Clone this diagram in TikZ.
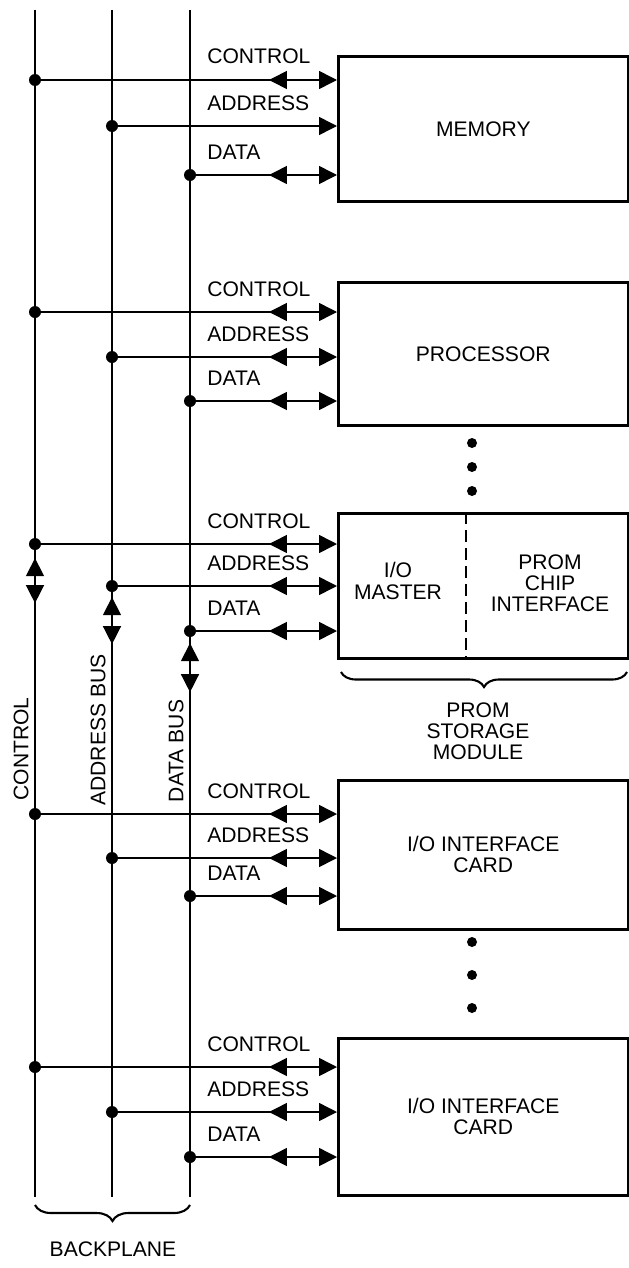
\documentclass[tikz,border=0pt]{standalone}
\usepackage{fontspec}
\setmainfont{Liberation Sans}
\usetikzlibrary{positioning, arrows.meta, calc, decorations.markings, decorations.pathreplacing}

\begin{document}
\begin{tikzpicture}[
    x=0.025cm, y=-0.025cm,      % one unit = one pixel of the sheet, y downwards
    >={Triangle[length=0.45cm, width=0.45cm]},
    font=\fontsize{15}{15}\selectfont,
    box/.style={draw, line width=1.8pt, anchor=north west, inner sep=0pt,
                minimum width=7.25cm, align=center},
    jdot/.style={circle, fill, inner sep=0pt, minimum size=0.3cm},
    vdot/.style={circle, fill, inner sep=0pt, minimum size=0.25cm},
    lbl/.style={anchor=base west, inner sep=0pt},
    wire/.style={line width=1.1pt},
    oneway/.style={wire, ->},
    twoway/.style={wire, ->, postaction={decorate, decoration={markings,
                mark=at position -1.7cm with {\arrowreversed{>}}}}},
    bus/.style 2 args={line width=1pt, postaction={decorate, decoration={markings,
                mark=at position #1 with {\arrowreversed{>}},
                mark=at position #2 with {\arrow{>}}}}},
    brc/.style={line width=1.5pt, decorate, decoration={brace, mirror, amplitude=#1}}
]
    \useasboundingbox (0,0) rectangle (629,1268);

    % --- 1. the modules ---
    \node[box, minimum height=3.625cm] (mem)  at (337,55)   {MEMORY};
    \node[box, minimum height=3.575cm] (proc) at (337,281)  {PROCESSOR};
    \node[box, minimum height=3.625cm] (prom) at (337,512)  {};
    \node[box, minimum height=3.725cm] (io1)  at (337,779)  {I/O INTERFACE\\CARD};
    \node[box, minimum height=3.925cm] (io2)  at (337,1037) {I/O INTERFACE\\CARD};

    % PROM module split in two halves
    \draw[dash pattern=on 0.3cm off 0.15cm, line width=0.8pt] (466,512) -- (466,657);
    \node[align=center] (iom) at (398,581) {I/O\\MASTER};
    \node[align=center] (pci) at (550,583) {PROM\\CHIP\\INTERFACE};
    \draw[brc=0.375cm] (341,672) -- (627,672);
    \node[align=center] (psm) at (478,731) {PROM\\STORAGE\\MODULE};

    % more modules (ellipsis)
    \node[vdot] (e1) at (472,443) {};
    \node[vdot] (e2) at (472,467) {};
    \node[vdot] (e3) at (472,491) {};
    \node[vdot] (e4) at (472,942) {};
    \node[vdot] (e5) at (472,975) {};
    \node[vdot] (e6) at (472,1008) {};

    % --- 2. the backplane ---
    \coordinate (ctop) at (35,10);   \coordinate (cbot) at (35,1197);
    \coordinate (atop) at (112,10);  \coordinate (abot) at (112,1197);
    \coordinate (dtop) at (190,10);  \coordinate (dbot) at (190,1197);
    \draw[bus={13.7cm}{14.825cm}]  (ctop) -- (cbot);
    \draw[bus={14.675cm}{15.85cm}] (atop) -- (abot);
    \draw[bus={15.825cm}{17.05cm}] (dtop) -- (dbot);

    \node[rotate=90] (vctl) at (21,749) {CONTROL};
    \node[rotate=90] (vadr) at (98,730) {ADDRESS BUS};
    \node[rotate=90] (vdat) at (176,751) {DATA BUS};

    \draw[brc=0.4cm] (35,1205) -- (190,1205);
    \node (bpl) at (113,1249) {BACKPLANE};

    % --- 3. taps from the backplane to each module ---
    % memory
    \node[jdot] (c1) at (35,80) {};
    \node[jdot] (a1) at (112,126) {};
    \node[jdot] (d1) at (190,175) {};
    \draw[twoway] (c1) -- (c1 -| mem.west);
    \draw[oneway] (a1) -- (a1 -| mem.west);
    \draw[twoway] (d1) -- (d1 -| mem.west);
    \node[lbl] (lc1) at (207,64)  {CONTROL};
    \node[lbl] (la1) at (207,110) {ADDRESS};
    \node[lbl] (ld1) at (207,159) {DATA};

    % processor
    \node[jdot] (c2) at (35,312) {};
    \node[jdot] (a2) at (112,357) {};
    \node[jdot] (d2) at (190,401) {};
    \draw[twoway] (c2) -- (c2 -| proc.west);
    \draw[twoway] (a2) -- (a2 -| proc.west);
    \draw[twoway] (d2) -- (d2 -| proc.west);
    \node[lbl] (lc2) at (207,296) {CONTROL};
    \node[lbl] (la2) at (207,341) {ADDRESS};
    \node[lbl] (ld2) at (207,385) {DATA};

    % prom storage module
    \node[jdot] (c3) at (35,544) {};
    \node[jdot] (a3) at (112,586) {};
    \node[jdot] (d3) at (190,631) {};
    \draw[twoway] (c3) -- (c3 -| prom.west);
    \draw[twoway] (a3) -- (a3 -| prom.west);
    \draw[twoway] (d3) -- (d3 -| prom.west);
    \node[lbl] (lc3) at (207,528) {CONTROL};
    \node[lbl] (la3) at (207,570) {ADDRESS};
    \node[lbl] (ld3) at (207,615) {DATA};

    % first i/o card
    \node[jdot] (c4) at (35,814) {};
    \node[jdot] (a4) at (112,858) {};
    \node[jdot] (d4) at (190,896) {};
    \draw[twoway] (c4) -- (c4 -| io1.west);
    \draw[twoway] (a4) -- (a4 -| io1.west);
    \draw[twoway] (d4) -- (d4 -| io1.west);
    \node[lbl] (lc4) at (207,798) {CONTROL};
    \node[lbl] (la4) at (207,842) {ADDRESS};
    \node[lbl] (ld4) at (207,880) {DATA};

    % last i/o card
    \node[jdot] (c5) at (35,1067) {};
    \node[jdot] (a5) at (112,1112) {};
    \node[jdot] (d5) at (190,1157) {};
    \draw[twoway] (c5) -- (c5 -| io2.west);
    \draw[twoway] (a5) -- (a5 -| io2.west);
    \draw[twoway] (d5) -- (d5 -| io2.west);
    \node[lbl] (lc5) at (207,1051) {CONTROL};
    \node[lbl] (la5) at (207,1096) {ADDRESS};
    \node[lbl] (ld5) at (207,1141) {DATA};

\end{tikzpicture}
\end{document}
